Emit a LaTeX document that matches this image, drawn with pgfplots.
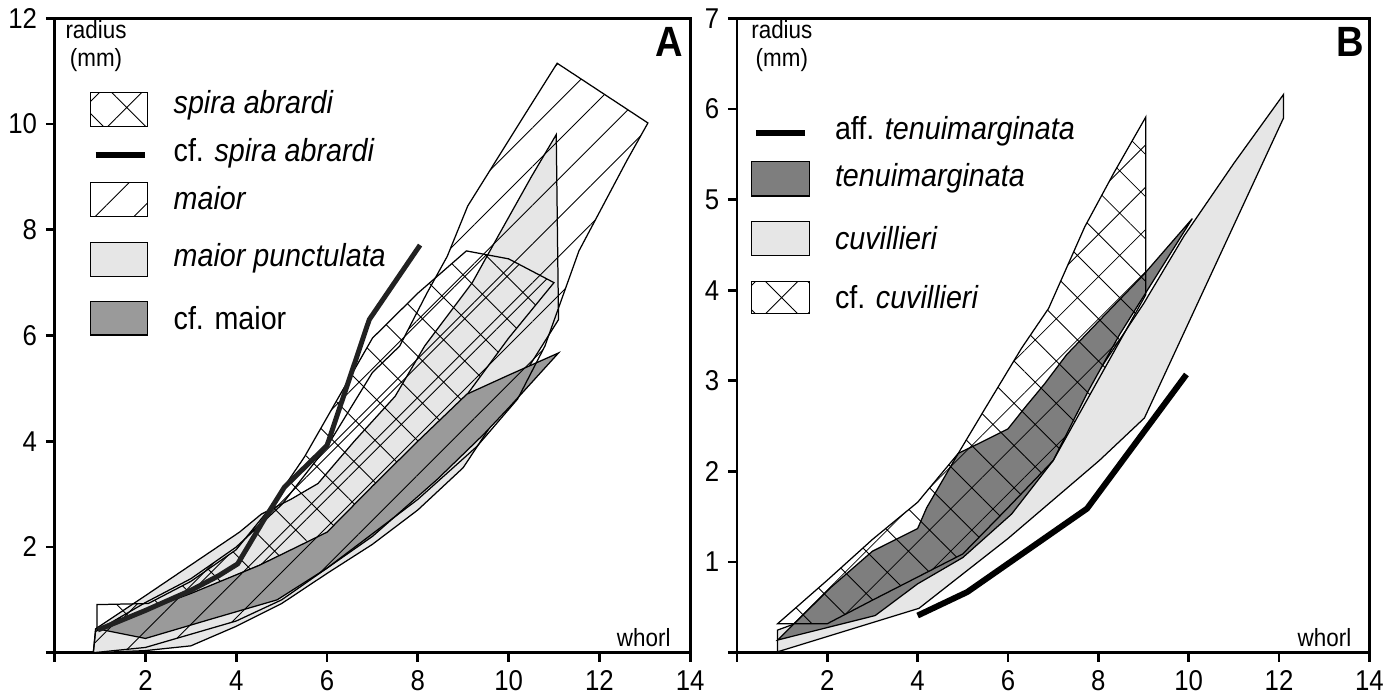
\documentclass[border=0pt]{standalone}
\usepackage{fontspec}
\setmainfont[FakeStretch=0.9]{Liberation Sans}
\usepackage{pgfplots}
\pgfplotsset{compat=1.18}
\usetikzlibrary{patterns.meta}

\definecolor{lgrey}{HTML}{E6E6E6}
\definecolor{dgreyA}{HTML}{9A9A9A}
\definecolor{dgreyB}{HTML}{7E7E7E}

\tikzset{
  leg/.style={anchor=west, inner sep=0pt, font=\fontsize{12.8}{14}\selectfont},
  outl/.style={draw=black, line width=0.5pt},
  xh/.style={outl, pattern={Hatch[angle=45,distance=12pt,line width=0.35pt]}, pattern color=black},
  lh/.style={outl, pattern={Lines[angle=45,distance=11pt,line width=0.35pt]}, pattern color=black},
}
\pgfplotsset{
  panel/.style={
    scale only axis, height=254.8pt,
    xmin=0, xmax=14, ymin=0,
    xtick={0,2,...,14}, xticklabels={,2,4,6,8,10,12,14},
    tick pos=left, tick align=outside, major tick length=3.6pt,
    every tick/.style={black, line width=1.1pt},
    axis line style={line width=1.1pt},
    tick label style={font=\fontsize{11.5}{13}\selectfont},
    /pgf/number format/assume math mode=true,
  },
}

\begin{document}
\begin{tikzpicture}
% ---------------- panel A ----------------
\begin{axis}[panel, width=255.2pt, ymax=12,
  ytick={0,2,...,12}, yticklabels={,2,4,6,8,10,12}]
% maior punctulata
\addplot[outl, fill=lgrey] coordinates {
 (0.9,0.45)(2,1.08)(3,1.66)(4.07,2.28)(4.55,2.62)(5.2,2.9)(5.8,3.2)(6.6,4.0)
 (7.5,4.85)(8.15,5.8)(9.2,7.0)(9.75,7.85)(10.5,9.0)(11.05,9.8)(11.1,6.3)
 (10,4.8)(9,3.5)(8,2.7)(7,2.05)(6,1.5)(5,0.93)(4,0.5)(3,0.13)(2,0.04)(0.85,0)} --cycle;
% spira abrardi
\addplot[xh] coordinates {
 (0.93,0.44)(0.93,0.91)(2.06,0.93)(3,1.35)(4,1.95)(4.7,2.69)(5.5,3.7)(6.3,4.9)
 (7.0,5.95)(8,6.8)(9.07,7.6)(10,7.45)(11,7.0)(10.0,5.95)(9.1,4.9)(7.5,3.5)
 (6,2.25)(4.5,1.65)(3,1.1)(2,0.78)} --cycle;
% cf. maior
\addplot[outl, fill=dgreyA] coordinates {
 (0.95,0.45)(2,0.8)(3,1.12)(4.5,1.65)(6,2.28)(7,3.15)(8,4.0)(9.08,4.89)(10,5.25)
 (11.1,5.67)(10,4.63)(9.45,4.13)(8.43,3.28)(7,2.2)(6,1.6)(4.9,1.0)(3.5,0.65)(2,0.27)} --cycle;
% maior
\addplot[lh] coordinates {
 (0.85,0.0)(0.9,0.4)(2,0.95)(3,1.4)(4,2.0)(5,2.8)(6,3.9)(7,5.3)(7.6,5.8)(8.2,6.8)
 (8.65,7.5)(9.1,8.45)(9.5,9.0)(10.3,10.1)(11.07,11.15)(13.07,10.02)(12.6,9.3)
 (11.55,7.6)(10.8,5.8)(10.2,4.8)(9.3,3.9)(8,2.9)(6,1.6)(5,1.0)(4,0.6)(3,0.35)(2,0.1)} --cycle;
% cf. spira abrardi
\addplot[color=black!87, line width=2pt] coordinates {
 (0.95,0.43)(2,0.8)(3,1.18)(3.6,1.45)(4.03,1.68)(4.6,2.5)(5.06,3.13)(6,3.92)(6.93,6.3)(8.05,7.71)};
% legend
\addplot[xh] coordinates {(0.78,9.95)(2.05,9.95)(2.05,10.59)(0.78,10.59)} --cycle;
\addplot[black, line width=2.4pt] coordinates {(0.9,9.42)(1.98,9.42)};
\addplot[lh] coordinates {(0.78,8.25)(2.05,8.25)(2.05,8.89)(0.78,8.89)} --cycle;
\addplot[outl, fill=lgrey] coordinates {(0.78,7.12)(2.05,7.12)(2.05,7.76)(0.78,7.76)} --cycle;
\addplot[outl, fill=dgreyA] coordinates {(0.78,6.01)(2.05,6.01)(2.05,6.65)(0.78,6.65)} --cycle;
\node[leg] at (axis cs:2.61,10.35) {\textit{spira abrardi}};
\node[leg] at (axis cs:2.61,9.45) {cf. \textit{spira abrardi}};
\node[leg] at (axis cs:2.61,8.59) {\textit{maior}};
\node[leg] at (axis cs:2.61,7.47) {\textit{maior punctulata}};
\node[leg] at (axis cs:2.61,6.33) {cf. maior};
\node[align=center, font=\fontsize{10}{11.5}\selectfont] at (rel axis cs:0.065,0.956) {radius\\(mm)};
\node[font=\fontsize{17}{19}\selectfont\bfseries] at (rel axis cs:0.967,0.962) {A};
\node[font=\fontsize{10}{11}\selectfont] at (rel axis cs:0.927,0.024) {whorl};
\end{axis}

% ---------------- panel B ----------------
\begin{axis}[panel, at={(274pt,0pt)}, width=254pt, ymax=7,
  ytick={0,1,...,7}, yticklabels={,1,2,3,4,5,6,7}]
% cuvillieri
\addplot[outl, fill=lgrey] coordinates {
 (0.9,0.01)(0.9,0.25)(2,0.45)(3,0.7)(4,1.0)(5,1.4)(6,1.9)(7,2.4)(8,3.1)(9,3.85)
 (9.9,4.6)(11,5.4)(12.1,6.16)(12.1,5.9)(9.02,2.59)(8.02,2.12)(6,1.26)(4.03,0.49)} --cycle;
% tenuimarginata
\addplot[outl, fill=dgreyB] coordinates {
 (0.9,0.14)(2.1,0.73)(3,1.12)(4,1.37)(4.2,1.6)(4.9,2.2)(5.4,2.32)(6,2.47)(6.4,2.72)
 (6.8,2.96)(7.3,3.29)(9,4.17)(10.08,4.79)(8.47,3.51)(7.78,2.89)(7,2.12)(6.08,1.53)
 (5,1.05)(4,0.76)(3.06,0.41)} --cycle;
% cf. cuvillieri
\addplot[xh] coordinates {
 (0.9,0.32)(2,0.8)(3,1.25)(4,1.66)(4.9,2.2)(5.5,2.7)(6.3,3.36)(6.9,3.8)(7.7,4.7)
 (8.35,5.3)(9.05,5.91)(9.05,3.95)(7,2.12)(6,1.6)(5,1.09)(3,0.58)(2,0.32)} --cycle;
% aff. tenuimarginata
\addplot[black, line width=2.4pt] coordinates {(4,0.41)(5.1,0.67)(7.75,1.59)(9.95,3.07)};
% legend
\addplot[black, line width=2.4pt] coordinates {(0.42,5.73)(1.5,5.73)};
\addplot[outl, fill=dgreyB] coordinates {(0.33,5.04)(1.6,5.04)(1.6,5.42)(0.33,5.42)} --cycle;
\addplot[outl, fill=lgrey] coordinates {(0.33,4.38)(1.6,4.38)(1.6,4.76)(0.33,4.76)} --cycle;
\addplot[xh] coordinates {(0.33,3.74)(1.6,3.74)(1.6,4.1)(0.33,4.1)} --cycle;
\node[leg] at (axis cs:2.16,5.75) {aff. \textit{tenuimarginata}};
\node[leg] at (axis cs:2.16,5.23) {\textit{tenuimarginata}};
\node[leg] at (axis cs:2.16,4.57) {\textit{cuvillieri}};
\node[leg] at (axis cs:2.16,3.92) {cf. \textit{cuvillieri}};
\node[align=center, font=\fontsize{10}{11.5}\selectfont] at (rel axis cs:0.071,0.956) {radius\\(mm)};
\node[font=\fontsize{17}{19}\selectfont\bfseries] at (rel axis cs:0.969,0.962) {B};
\node[font=\fontsize{10}{11}\selectfont] at (rel axis cs:0.929,0.024) {whorl};
\end{axis}
\end{tikzpicture}
\end{document}
